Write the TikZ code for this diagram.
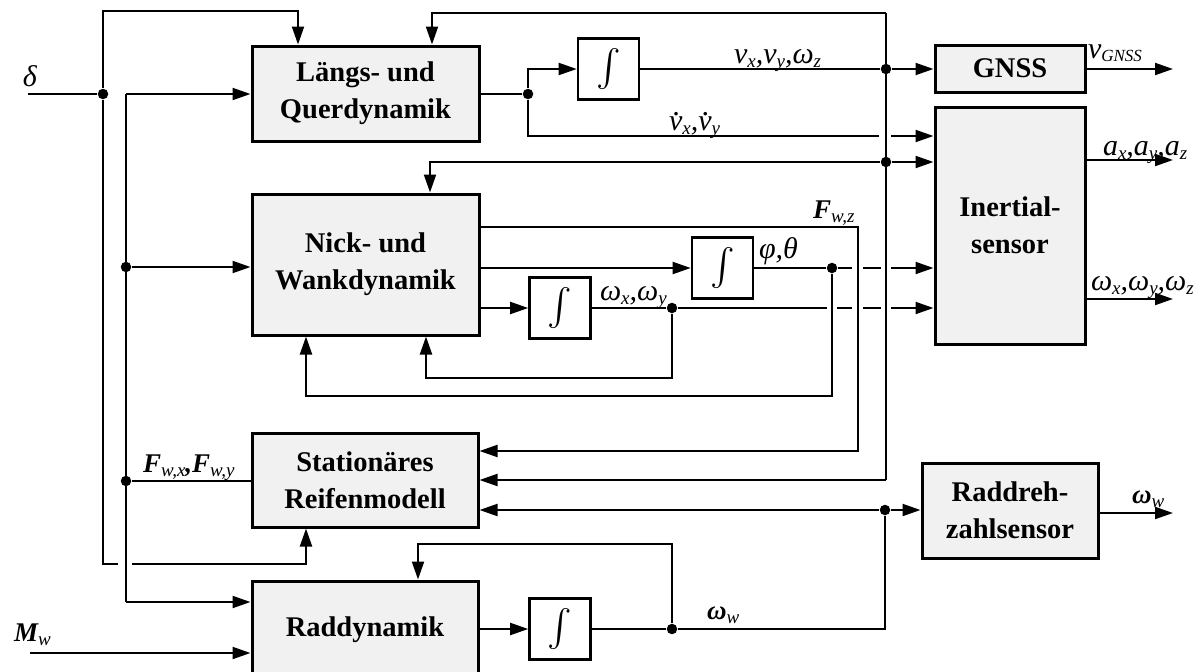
\documentclass[tikz,border=0pt]{standalone}
\usepackage{fontspec}
\setmainfont{Liberation Serif}
\usetikzlibrary{arrows.meta}
\definecolor{boxgray}{RGB}{241,241,241}
\newcommand\boxfont{\bfseries\fontsize{28.5}{37}\selectfont}
\newcommand\lbl{\itshape\fontsize{30}{30}\selectfont}
\newcommand\blbl{\bfseries\itshape\fontsize{27}{27}\selectfont}
\newcommand\lo[1]{\raisebox{-4pt}{\fontsize{19}{19}\selectfont\mdseries #1}}
\newcommand\dotv{\leavevmode\rlap{\kern0.14em\raisebox{0.5em}{.}}v}
\newcommand\intsym{\scalebox{3.7}{$\textstyle\int$}}

\begin{document}
\begin{tikzpicture}[x=1pt,y=-1pt,
  line width=2pt,
  >={Triangle[length=18pt,width=12pt]},
  block/.style={draw, line width=3pt, fill=boxgray, align=center, font=\boxfont, inner sep=0pt},
  integ/.style={draw, line width=2.6pt, minimum width=61pt, minimum height=61pt, inner sep=0pt},
  junction/.style={circle, fill=black, inner sep=0pt, minimum size=10.5pt},
  lab/.style={inner sep=0pt, anchor=base west},
]
\useasboundingbox (0,0) rectangle (1200,672);
\clip (0,0) rectangle (1200,672);

% blocks
\node[block, minimum width=227pt, minimum height=95pt]  (LQ) at (365.5,93.5) {Längs- und\\Querdynamik};
\node[block, minimum width=227pt, minimum height=141pt] (NW) at (365.5,264.5) {Nick- und\\Wankdynamik};
\node[block, minimum width=226pt, minimum height=94pt]  (SR) at (365,480) {Stationäres\\Reifenmodell};
\node[block, minimum width=226pt, minimum height=98pt]  (RD) at (365,630) {Raddynamik};
\node[block, minimum width=150pt, minimum height=47pt]  (GN) at (1010,68.5) {GNSS};
\node[block, minimum width=150pt, minimum height=237pt] (IS) at (1010,225.5) {Inertial-\\sensor};
\node[block, minimum width=176pt, minimum height=95pt]  (RS) at (1010,510.5) {Raddreh-\\zahlsensor};

% integrators
\node[integ] (I1) at (608.5,69) {\intsym};
\node[integ] (I2) at (560,308) {\intsym};
\node[integ] (I3) at (722.5,268) {\intsym};
\node[integ] (I4) at (560,629) {\intsym};

% junctions
\node[junction] (j1) at (103,94) {};
\node[junction] (j2) at (528,94) {};
\node[junction] (j3) at (886,69) {};
\node[junction] (j4) at (886,162) {};
\node[junction] (j5) at (832,268) {};
\node[junction] (j6) at (672,308) {};
\node[junction] (j7) at (672,629) {};
\node[junction] (j8) at (885,510) {};
\node[junction] (j9) at (126,267) {};
\node[junction] (j10) at (126,481) {};

% steering angle
\coordinate (dIn) at (28,94);
\coordinate (dTop) at (298,11);
\coordinate (dBot) at (306,564);
\draw (dIn) -- (j1);
\draw[->] (j1) |- (dTop) -- (dTop |- LQ.north);
\draw (j1) |- (118,564);
\draw[->] (132,564) -- (dBot) -- (dBot |- SR.south);

% tyre force bus
\coordinate (bTop) at (126,94);
\coordinate (bBot) at (126,602);
\draw (bTop) -- (bBot);
\draw[->] (bTop) -- (bTop -| LQ.west);
\draw[->] (j9) -- (j9 -| NW.west);
\draw (SR.west |- j10) -- (j10);
\draw[->] (bBot) -- (bBot -| RD.west);

% drive torque
\coordinate (mIn) at (30,653);
\draw[->] (mIn) -- (mIn -| RD.west);

% longitudinal/lateral outputs
\coordinate (h1a) at (879,136);
\coordinate (h1b) at (891,136);
\draw (LQ.east |- j2) -- (j2);
\draw[->] (j2) |- (I1.west);
\draw (j2) |- (h1a);
\draw[->] (h1b) -- (IS.west |- h1b);
\draw (I1.east) -- (j3);
\draw[->] (j3) -- (GN.west |- j3);

% velocity feedback
\coordinate (fTop) at (886,13);
\coordinate (fBot) at (886,480);
\coordinate (fL) at (432,13);
\coordinate (gL) at (430,162);
\draw (fTop) -- (fBot);
\draw[->] (fTop) -- (fL) -- (fL |- LQ.north);
\draw[->] (j4) -- (gL) -- (gL |- NW.north);
\draw[->] (j4) -- (IS.west |- j4);
\draw[->] (fBot) -- (SR.east |- fBot);

% vertical wheel loads
\coordinate (fzR) at (858,227);
\coordinate (fzB) at (858,451);
\draw[->] (NW.east |- fzR) -- (fzR) -- (fzB) -- (SR.east |- fzB);

% roll / pitch angles
\coordinate (pa) at (852,268);
\coordinate (pb) at (863,268);
\coordinate (pc) at (881,268);
\coordinate (pd) at (891,268);
\draw[->] (I3.west -| NW.east) -- (I3.west);
\draw (I3.east) -- (j5) -- (pa);
\draw (pb) -- (pc);
\draw[->] (pd) -- (IS.west |- pd);

% roll / pitch rates
\coordinate (ra) at (827,308);
\coordinate (rb) at (837,308);
\coordinate (rc) at (852,308);
\coordinate (rd) at (863,308);
\coordinate (re) at (881,308);
\coordinate (rf) at (891,308);
\draw[->] (I2.west -| NW.east) -- (I2.west);
\draw (I2.east) -- (j6) -- (ra);
\draw (rb) -- (rc);
\draw (rd) -- (re);
\draw[->] (rf) -- (IS.west |- rf);

% feedback loops into Nick- und Wankdynamik
\coordinate (k1) at (426,378);
\coordinate (k2) at (306,396);
\draw[->] (j6) |- (k1) -- (k1 |- NW.south);
\draw[->] (j5) |- (k2) -- (k2 |- NW.south);

% wheel dynamics
\coordinate (k3) at (418,544);
\draw[->] (I4.west -| RD.east) -- (I4.west);
\draw (I4.east) -- (j7) -| (j8);
\draw[->] (j8) -- (SR.east |- j8);
\draw[->] (j8) -- (RS.west |- j8);
\draw[->] (j7) |- (k3) -- (k3 |- RD.north);

% sensor outputs
\coordinate (oG) at (1173,69);
\coordinate (oA) at (1173,160);
\coordinate (oW) at (1173,299);
\coordinate (oR) at (1173,513);
\draw[->] (GN.east |- oG) -- (oG);
\draw[->] (IS.east |- oA) -- (oA);
\draw[->] (IS.east |- oW) -- (oW);
\draw[->] (RS.east |- oR) -- (oR);

% signal labels
\node[lab] (lDelta) at (22,86) {\lbl δ};
\node[lab] (lV) at (733,63) {\lbl v\lo{x},v\lo{y},ω\lo{z}};
\node[lab] (lVd) at (668,130) {\lbl \dotv\lo{x},\dotv\lo{y}};
\node[lab] (lFz) at (812,218) {\blbl F\lo{w,z}};
\node[lab] (lPT) at (758,258) {\lbl φ,θ};
\node[lab] (lWxy) at (599,300) {\lbl ω\lo{x},ω\lo{y}};
\node[lab] (lFxy) at (142,472) {\blbl F\lo{w,x},F\lo{w,y}};
\node[lab] (lM) at (13,641) {\blbl M\lo{w}};
\node[lab] (lWw) at (706,619) {\blbl ω\lo{w}};
\node[lab] (lWw2) at (1131,503) {\blbl ω\lo{w}};
\node[lab] (lG) at (1087,58) {\lbl v\raisebox{-3pt}{\fontsize{17}{17}\selectfont GNSS}};
\node[lab] (lA) at (1102,155) {\lbl a\lo{x},a\lo{y},a\lo{z}};
\node[lab] (lWxyz) at (1090,290) {\lbl ω\lo{x},ω\lo{y},ω\lo{z}};
\end{tikzpicture}
\end{document}
